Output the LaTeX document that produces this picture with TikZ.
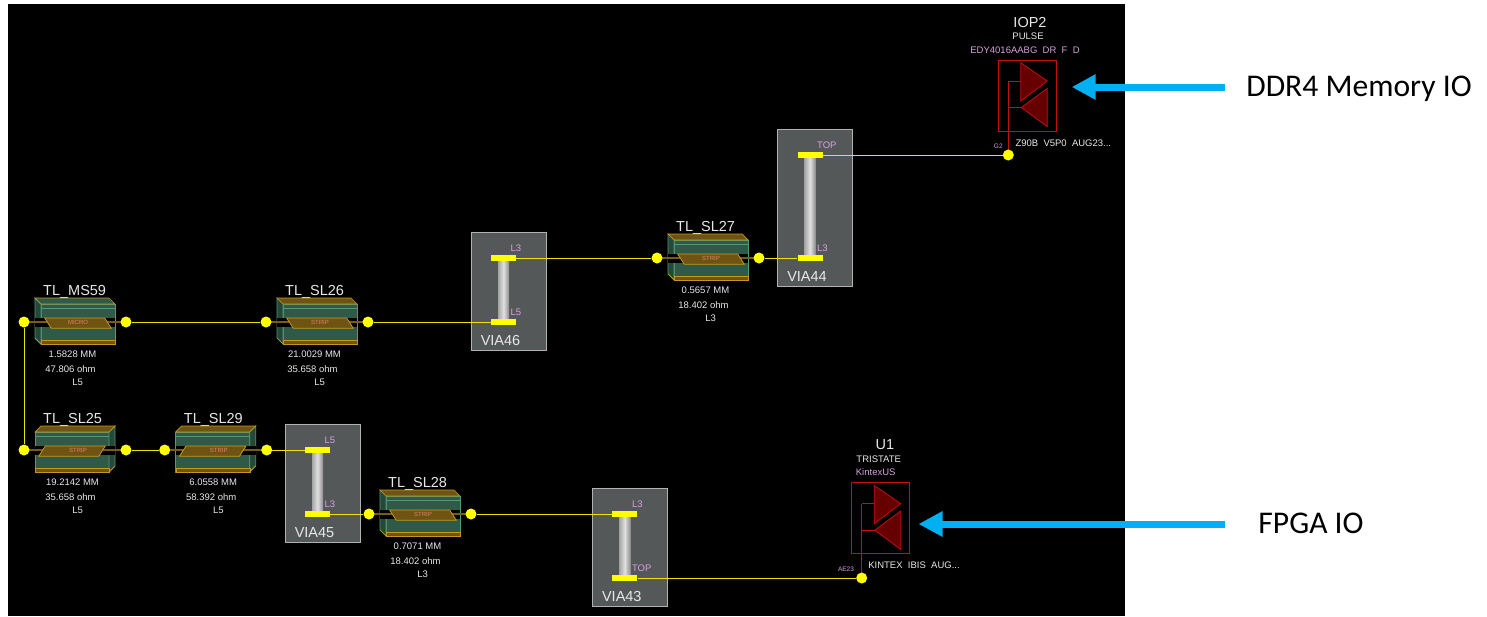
\documentclass[tikz,border=0pt]{standalone}
\usepackage{fontspec}
\setmainfont{Liberation Sans}
\newfontfamily\calloutfont{Carlito}
\usetikzlibrary{arrows.meta}

\definecolor{padyellow}{HTML}{FFFF00}
\definecolor{netyellow}{HTML}{E6E600}
\definecolor{bodygreen}{HTML}{2F5A47}
\definecolor{edgegreen}{HTML}{4F9A78}
\definecolor{edgegold}{HTML}{C8961E}
\definecolor{topgold}{HTML}{6E5414}
\definecolor{wirebrown}{HTML}{7A5A14}
\definecolor{viagray}{HTML}{555858}
\definecolor{pinklabel}{HTML}{D8A0E0}
\definecolor{greylabel}{HTML}{E8E8E8}
\definecolor{striplabel}{HTML}{E08070}
\definecolor{driverred}{HTML}{C01010}
\definecolor{driverfill}{HTML}{660000}
\definecolor{calloutblue}{HTML}{00B0F0}

% segment: name, x, y, flip, top colour, type, length, impedance, layer
\newcommand{\tlseg}[9]{
  \begin{scope}[shift={(#2,#3)}, xscale=#4]
    \draw[bodyedge, fill=bodygreen] (-34,-18) rectangle (40,22);
    \draw[bodyedge, fill=bodygreen!80!black] (-40,-24) -- (-34,-18) -- (-34,22) -- (-40,16) -- cycle;
    \draw[bodyedge, fill=#5, draw=edgegold] (-40,-24) -- (34,-24) -- (40,-18) -- (-34,-18) -- cycle;
    \draw[edgegreen, line width=0.7pt] (-34,-13.5) -- (40,-13.5);
    \fill[black] (-40,-4.5) rectangle (40,5);
    \draw[edgegold, fill=topgold] (-34,18) rectangle (40,22);
    \draw[edgegold, line width=0.7pt] (-40,16) -- (-34,22);
    \draw[wirebrown, line width=2.6pt] (-51,0) -- (51,0);
    \draw[edgegold, fill=topgold, line width=0.8pt] (-30.3,-4) -- (29.7,-4) -- (36.3,6.3) -- (-23.7,6.3) -- cycle;
  \end{scope}
  \node[stripname] (#1-type) at (#2+3,#3+0.5) {#6};
  \node[pad dot] (#1-l) at (#2-51,#3) {};
  \node[pad dot] (#1-r) at (#2+51,#3) {};
  \node[title, anchor=west] (#1-name) at (#2-32,#3-30.5) {TL\_#1};
  \node[small] (#1-len) at (#2-2.5,#3+32) {#7};
  \node[small] (#1-ohm) at (#2-4.5,#3+47) {#8};
  \node[small] (#1-lay) at (#2+2.7,#3+60) {#9};
}

% via: name, pad x, top y, bottom y, top layer, bottom layer
\newcommand{\viabox}[6]{
  \node[via box, minimum height=#4-#3+54.5] (#1) at (#2+5,{(#3+#4)/2+1.5}) {};
  \node[barrel, minimum height=#4-#3] (#1-barrel) at (#2,{(#3+#4)/2}) {};
  \node[via pad] (#1-t) at (#2,#3) {};
  \node[via pad] (#1-b) at (#2,#4) {};
  \node[pin, anchor=west] (#1-tl) at (#2+7,#3-10) {#5};
  \node[pin, anchor=west] (#1-bl) at (#2+7,#4-10) {#6};
  \node[title] (#1-name) at (#2-3,#4+18.5) {#1};
}

% driver: name, box left, box top, stem bottom y
\newcommand{\driver}[4]{
  \node[driver box] (#1) at (#2+29,#3+35.5) {};
  \draw[driver line] (#2+10,#3+21) -- (#2+22.5,#3+21);
  \draw[driver line] (#2+10,#3+47.5) -- (#2+23,#3+47.5);
  \draw[driver line] (#2+10,#3+21) -- (#2+10,#4);
  \draw[driver line, fill=driverfill] (#2+22.5,#3+2.7) -- (#2+49,#3+21) -- (#2+22.5,#3+41) -- cycle;
  \draw[driver line, fill=driverfill] (#2+49,#3+28.3) -- (#2+23,#3+47.5) -- (#2+49,#3+66.7) -- cycle;
  \node[pad dot] (#1-d) at (#2+10,#4) {};
}

\begin{document}
\begin{tikzpicture}[
    x=1pt, y=-1pt,
    bodyedge/.style={draw=edgegreen, line width=0.7pt},
    net/.style={netyellow, line width=0.8pt},
    pad dot/.style={circle, fill=padyellow, inner sep=0pt, minimum size=11pt},
    via pad/.style={rectangle, fill=padyellow, inner sep=0pt, minimum width=25pt, minimum height=6pt},
    via box/.style={rectangle, draw=black!30, fill=viagray, line width=0.8pt, inner sep=0pt, minimum width=75pt},
    barrel/.style={rectangle, inner sep=0pt, minimum width=11pt, left color=black!35, right color=black!45, middle color=black!12},
    driver box/.style={rectangle, draw=driverred, line width=0.8pt, inner sep=0pt, minimum width=58pt, minimum height=71pt},
    driver line/.style={draw=driverred, line width=0.8pt},
    title/.style={font=\fontsize{14.5}{16}\selectfont, text=greylabel, inner sep=0pt},
    small/.style={font=\fontsize{9.5}{11}\selectfont, text=greylabel, inner sep=0pt},
    pin/.style={font=\fontsize{9.5}{11}\selectfont, text=pinklabel, inner sep=0pt},
    tiny pin/.style={font=\fontsize{6.5}{8}\selectfont, text=pinklabel, inner sep=0pt},
    stripname/.style={font=\fontsize{6}{7}\selectfont, text=striplabel, inner sep=0pt},
    callout/.style={calloutblue, line width=7pt, -{Triangle[length=24pt,width=24pt]}},
    callout text/.style={font=\calloutfont\fontsize{31.6}{34}\selectfont, text=black, inner sep=0pt, text height=25pt, text depth=6pt}
  ]
    \useasboundingbox (0,0) rectangle (1487,616);
    \fill[black] (8,4) rectangle (1125,616);

    % Upper branch
    \tlseg{MS59}{75}{322}{1}{bodygreen}{MICRO}{1.5828 MM}{47.806 ohm}{L5}
    \tlseg{SL26}{317}{322}{1}{topgold}{STRIP}{21.0029 MM}{35.658 ohm}{L5}
    \tlseg{SL27}{708}{258}{1}{topgold}{STRIP}{0.5657 MM}{18.402 ohm}{L3}
    \viabox{VIA46}{503.5}{258}{322}{L3}{L5}
    \viabox{VIA44}{810}{155}{258}{TOP}{L3}

    % Lower branch
    \tlseg{SL25}{75}{450}{-1}{topgold}{STRIP}{19.2142 MM}{35.658 ohm}{L5}
    \tlseg{SL29}{215.7}{450}{-1}{topgold}{STRIP}{6.0558 MM}{58.392 ohm}{L5}
    \tlseg{SL28}{420}{514}{1}{topgold}{STRIP}{0.7071 MM}{18.402 ohm}{L3}
    \viabox{VIA45}{317.5}{450}{514}{L5}{L3}
    \viabox{VIA43}{624.8}{514}{578}{L3}{TOP}

    % Drivers
    \driver{IOP2}{998.3}{60}{155}
    \node[title] (iop-name) at (1030,22.7) {IOP2};
    \node[small] (iop-kind) at (1028,36.7) {PULSE};
    \node[pin] (iop-part) at (1025,50) {EDY4016AABG~~DR~~F~~D};
    \node[small] (iop-model) at (1063.3,143.3) {Z90B~~V5P0~~AUG23...};
    \node[tiny pin] (iop-pin) at (998.3,146) {G2};

    \driver{U1}{851.7}{482.7}{578}
    \node[title] (u1-name) at (885,445) {U1};
    \node[small] (u1-kind) at (878.7,459.3) {TRISTATE};
    \node[pin] (u1-part) at (875.7,472.3) {KintexUS};
    \node[small] (u1-model) at (914,565) {KINTEX~~IBIS~~AUG...};
    \node[tiny pin] (u1-pin) at (846,569.3) {AE23};

    % Connections
    \draw[net] (MS59-l) -- (SL25-l);
    \draw[net] (MS59-r) -- (SL26-l);
    \draw[net] (SL26-r) -- (VIA46-b);
    \draw[net] (VIA46-t) -- (SL27-l);
    \draw[net] (SL27-r) -- (VIA44-b);
    \draw[net] (VIA44-t) -- (IOP2-d);
    \draw[net] (SL25-r) -- (SL29-l);
    \draw[net] (SL29-r) -- (VIA45-t);
    \draw[net] (VIA45-b) -- (SL28-l);
    \draw[net] (SL28-r) -- (VIA43-t);
    \draw[net] (VIA43-b) -- (U1-d);

    % Callouts
    \node[callout text] (ddr) at (1359,87) {DDR4 Memory IO};
    \node[callout text] (fpga) at (1311,524) {FPGA IO};
    \draw[callout, shorten <=21pt, shorten >=15pt] (ddr.west) -- (ddr.west -| IOP2.east);
    \draw[callout, shorten <=33pt, shorten >=8.4pt] (fpga.west) -- (fpga.west -| U1.east);
  \end{tikzpicture}
\end{document}
